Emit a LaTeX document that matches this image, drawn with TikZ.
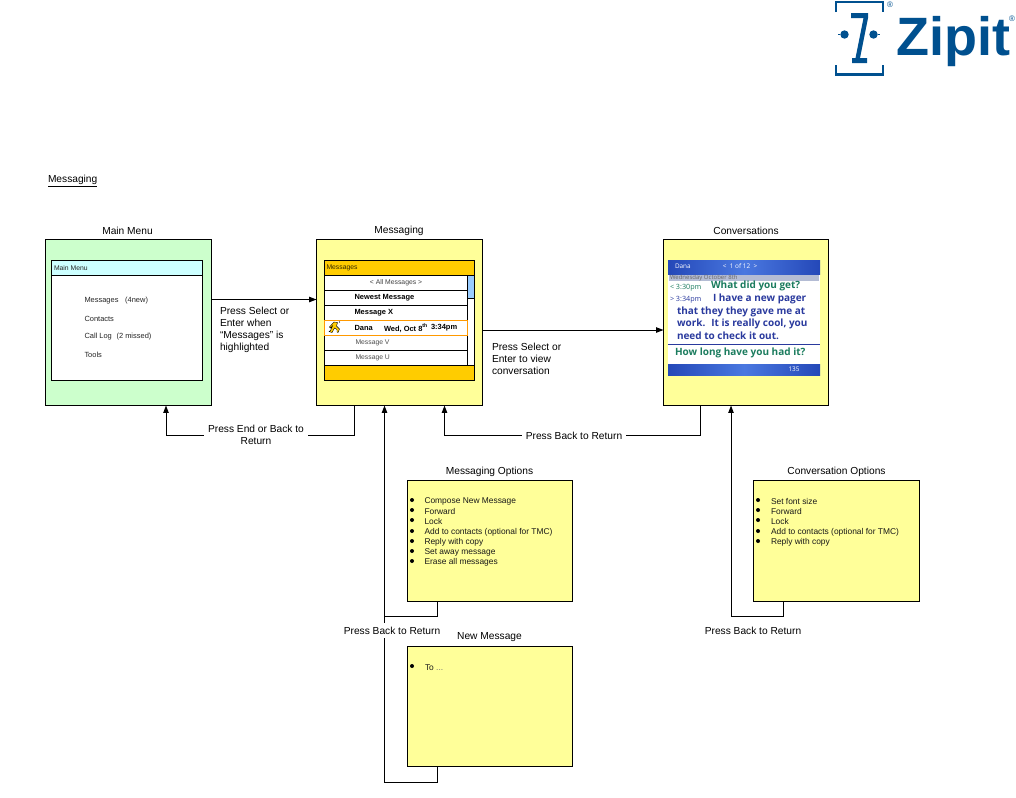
\documentclass[tikz,border=0pt]{standalone}
\usepackage{fontspec}
\setmainfont{Liberation Sans}
\newfontfamily\scrfont{Open Sans}
\usetikzlibrary{arrows.meta,shapes.geometric}
\newlength{\px}\setlength{\px}{.75pt}
\definecolor{logoblue}{HTML}{00508F}
\definecolor{mainfill}{HTML}{CCFFCC}
\definecolor{menuhead}{HTML}{CCFFFF}
\definecolor{noteyellow}{HTML}{FFFF99}
\definecolor{amber}{HTML}{FFCC00}
\definecolor{rowline}{HTML}{FF9900}
\definecolor{scroll}{HTML}{99CCFF}
\definecolor{scrblue}{HTML}{2448B8}
\definecolor{scrlight}{HTML}{4A78E0}
\definecolor{scrgrey}{HTML}{B4BCD4}
\definecolor{scrteal}{HTML}{1B7C5E}
\definecolor{scrtext}{HTML}{2A3A9E}
\tikzset{
  x=.75pt,y=-.75pt,
  frame/.style={draw=black,line width=.75pt,inner sep=0pt,outer sep=0pt},
  mainbox/.style={frame,fill=mainfill},
  notebox/.style={frame,fill=noteyellow},
  screenbox/.style={frame,fill=white},
  conn/.style={draw=black,line width=.75pt},
  connarrow/.style={conn,-{Triangle[length=5.5pt,width=4pt]}},
  lbl/.style={inner sep=0pt,outer sep=0pt,yshift=-.3pt,font=\fontsize{7.65}{9}\selectfont,text=black},
  gaplbl/.style={lbl,fill=white,inner xsep=3pt,inner ysep=2pt,align=center},
  title/.style={lbl},
  small/.style={inner sep=0pt,outer sep=0pt,yshift=-.4pt,anchor=west,font=\fontsize{5.1}{6}\selectfont,text=black!85},
  menuitem/.style={small,font=\fontsize{5.6}{6}\selectfont},
  smallb/.style={small,font=\fontsize{5.6}{6}\selectfont\bfseries,text=black},
  item/.style={inner sep=0pt,outer sep=0pt,yshift=-1pt,anchor=west,font=\fontsize{6.3}{7}\selectfont,text=black!90},
  dot/.style={fill=black,circle,minimum size=3pt,inner sep=0pt},
  scr/.style={inner sep=0pt,outer sep=0pt,anchor=west,font=\scrfont\bfseries\fontsize{7.5}{8}\selectfont},
  scrthin/.style={inner sep=0pt,outer sep=0pt,anchor=west,font=\scrfont\fontsize{5.4}{6}\selectfont},
  logobar/.style={draw=logoblue,line width=1.9pt,line cap=butt,line join=miter},
  scrbar/.style={left color=scrblue,right color=scrblue,middle color=scrlight},
}
\begin{document}
\begin{tikzpicture}
\useasboundingbox (0,0) rectangle (1016,797);
% logo
\draw[logobar] (836,12) -- (836,2) -- (883,2) -- (883,12);
\draw[logobar] (836,65) -- (836,74.5) -- (883,74.5) -- (883,65);
\fill[logoblue] (851,13) -- (868,13) -- (868,18) -- (860,58) -- (867,58) -- (867,63) -- (852,63) -- (852,58) -- (855.5,58) -- (863.5,18) -- (851,18) -- cycle;
\fill[logoblue] (844.5,34.5) circle (4.2);
\fill[logoblue] (873.5,34.5) circle (4.2);
\fill[logoblue] (840,33.7) rectangle (838,35.3);
\fill[logoblue] (878,33.7) rectangle (880,35.3);
\node[inner sep=0pt,anchor=base west,text=logoblue,font=\fontsize{40.5}{44}\selectfont\bfseries] (zipit) at (896,55) {Zipit};
\node[inner sep=0pt,text=logoblue,font=\fontsize{6}{7}\selectfont] (regA) at (890,4.5) {®};
\node[inner sep=0pt,text=logoblue,font=\fontsize{6}{7}\selectfont] (regB) at (1012,18.5) {®};

% heading
\node[lbl,anchor=west] (heading) at (48,180.5) {\underline{Messaging}};

% main boxes
\node[mainbox,minimum width=166\px,minimum height=166\px] (main) at (128.5,322.5) {};
\node[notebox,minimum width=166\px,minimum height=166\px] (msg) at (399.5,322.5) {};
\node[notebox,minimum width=165\px,minimum height=166\px] (conv) at (746,322.5) {};
\node[notebox,minimum width=165\px,minimum height=121\px] (mopt) at (490,541) {};
\node[notebox,minimum width=165\px,minimum height=120\px] (newm) at (490,706.5) {};
\node[notebox,minimum width=166\px,minimum height=121\px] (copt) at (836.5,541) {};

% titles
\node[title] (tMain) at (127.5,230) {Main Menu};
\node[title] (tMsg) at (399,230) {Messaging};
\node[title] (tConv) at (746,230) {Conversations};
\node[title] (tMopt) at (489.5,471) {Messaging Options};
\node[title] (tNew) at (489.5,637) {New Message};
\node[title] (tCopt) at (836.5,471) {Conversation Options};

% main menu screen
\node[screenbox,minimum width=151\px,minimum height=120\px] (mscr) at (127,320.5) {};
\node[frame,fill=menuhead,minimum width=151\px,minimum height=15\px] (mhead) at (127,268) {};
\node[small] (mh) at (54,267.5) {Main Menu};
\node[menuitem] (m1) at (84.5,300) {Messages\hspace{5pt}(4new)};
\node[menuitem] (m2) at (84.5,318) {Contacts};
\node[menuitem] (m3) at (84.5,336) {Call Log\hspace{3.5pt}(2 missed)};
\node[menuitem] (m4) at (84.5,354) {Tools};

% messaging screen
\node[screenbox,minimum width=150\px,minimum height=120\px] (sscr) at (399.5,320.5) {};
\node[frame,fill=amber,minimum width=150\px,minimum height=15\px] (shead) at (399.5,268) {};
\node[frame,fill=amber,minimum width=150\px,minimum height=15\px] (sfoot) at (399.5,373) {};
\node[frame,fill=white,minimum width=7\px,minimum height=90\px] (strack) at (471,320.5) {};
\node[frame,fill=scroll,minimum width=7\px,minimum height=23\px] (sthumb) at (471,286.5) {};
\draw[line width=.75pt] (324.5,290.5) -- (467.5,290.5);
\draw[line width=.75pt] (324.5,305.5) -- (467.5,305.5);
\draw[line width=.75pt] (324.5,350.5) -- (467.5,350.5);
\node[draw=rowline,fill=white,line width=.75pt,inner sep=0pt,minimum width=143\px,minimum height=15\px] (srow) at (396,328) {};
\node[small,text=black!80!amber] (s0) at (326.5,267) {Messages};
\node[small,anchor=center,text=black!75] (s1) at (396,282) {< All Messages >};
\node[smallb] (s2) at (354.5,297) {Newest Message};
\node[smallb] (s3) at (354.5,312) {Message X};
\node[smallb] (s4a) at (354.5,327.5) {Dana};
\node[smallb] (s4b) at (384,327.5) {Wed, Oct 8\textsuperscript{th}};
\node[smallb] (s4c) at (431,327.5) {3:34pm};
\node[small,text=black!70] (s5) at (355.5,342.5) {Message V};
\node[small,text=black!70] (s6) at (355.5,357.5) {Message U};
% buddy icon
\fill[amber,draw=black,line width=.3pt] (334,322) -- (337.5,322.5) -- (336.5,326) -- (339.5,329) -- (338,332.5) -- (337,332) -- (337,329.5) -- (334.5,328) -- (332,332.5) -- (329,331.5) -- (330.5,330.5) -- (332.5,326) -- (330.5,328) -- (329.5,327) -- cycle;
\fill[black] (339.5,322) circle (.6);

% conversation screenshot
\fill[white] (668,260) rectangle (820,375);
\shade[scrbar] (668,260) rectangle (820,274);
\fill[scrgrey] (669,274.5) rectangle (819,280.5);
\shade[scrbar] (668,364.5) rectangle (820,375);
\draw[scrtext,line width=.6pt] (668,344.5) -- (820,344.5);
\node[scrthin,text=white,font=\scrfont\fontsize{4.8}{6}\selectfont] (c1) at (675,266) {Dana};
\node[scrthin,text=white,anchor=center,font=\scrfont\fontsize{4.8}{6}\selectfont] (c2) at (740,266) {<~ 1 of 12 ~>};
\node[scrthin,text=black!60,font=\scrfont\fontsize{4.5}{5}\selectfont] (c3) at (670,278) {Wednesday October 8th};
\node[scrthin,text=scrteal] (c4) at (670,287.5) {< 3:30pm};
\node[scr,text=scrteal] (c5) at (711,286) {What did you get?};
\node[scrthin,text=scrtext] (c6) at (670,299.5) {> 3:34pm};
\node[scr,text=scrtext] (c7) at (713,299) {I have a new pager};
\node[scr,text=scrtext] (c8) at (677,311.5) {that they they gave me at};
\node[scr,text=scrtext] (c9) at (677,324) {work.~ It is really cool, you};
\node[scr,text=scrtext] (c10) at (677,336) {need to check it out.};
\node[scr,text=scrteal] (c11) at (675,353) {How long have you had it?};
\node[scrthin,text=white,font=\scrfont\fontsize{4.8}{6}\selectfont] (c12) at (788.5,369.5) {135};

% options lists
\foreach \y/\t [count=\i] in {500/Compose New Message,510/Forward,520/Lock,531/Add to contacts (optional for TMC),541/Reply with copy,551/Set away message,561/Erase all messages}{
  \node[dot] (mb\i) at (412,\y) {};
  \node[item] (mi\i) at (424.5,\y) {\t};
}
\foreach \y/\t [count=\i] in {500/Set font size,510/Forward,520/Lock,531/Add to contacts (optional for TMC),541/Reply with copy}{
  \node[dot] (cb\i) at (758,\y) {};
  \node[item] (ci\i) at (771,\y) {\t};
}
\node[dot] (nb1) at (412,666) {};
\node[item] (ni1) at (425,666) {To \textcolor{black!55}{...}};

% connectors
\draw[connarrow] (main.east |- 0,299.5) -- (msg.west |- 0,299.5);
\draw[connarrow] (msg.east |- 0,330) -- (conv.west |- 0,330);
\draw[connarrow] (msg.south -| 354.5,0) |- (166,435) -- (main.south -| 166,0);
\draw[connarrow] (conv.south -| 700.5,0) |- (444.5,435) -- (msg.south -| 444.5,0);
\draw[connarrow] (mopt.south -| 437.5,0) |- (384.5,616) -- (msg.south -| 384.5,0);
\draw[connarrow] (copt.south -| 783.5,0) |- (731,616) -- (conv.south -| 731,0);
\draw[conn] (newm.south -| 437.5,0) |- (384.5,782) -- (384.5,616);

% connector labels
\node[gaplbl] (lEnd) at (256,434.5) {Press End or Back to\\Return};
\node[gaplbl] (lBack) at (574,435) {Press Back to Return};
\node[gaplbl,inner xsep=1pt,inner ysep=3pt] (lOpt) at (392,630) {Press Back to Return};
\node[lbl] (lCopt) at (753,630) {Press Back to Return};
\node[lbl,anchor=north west,align=left] (lSel) at (220,306.5) {Press Select or\\Enter when\\“Messages” is\\highlighted};
\node[lbl,anchor=north west,align=left] (lView) at (492,342.5) {Press Select or\\Enter to view\\conversation};
\end{tikzpicture}
\end{document}
